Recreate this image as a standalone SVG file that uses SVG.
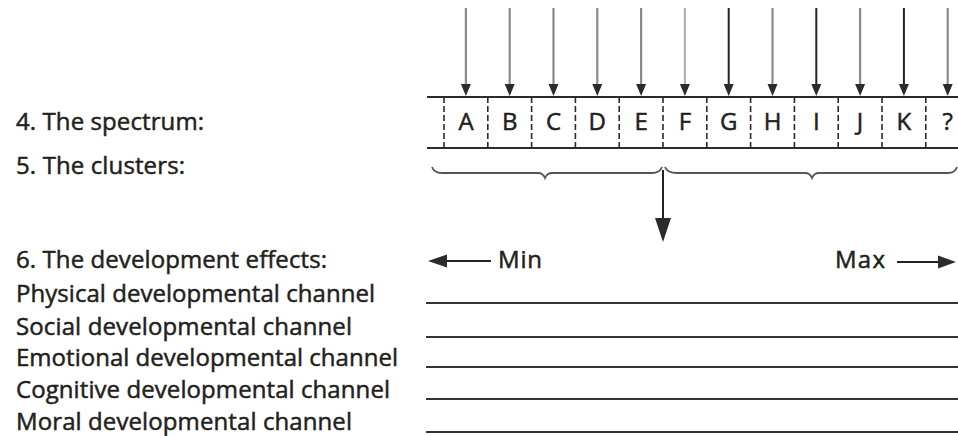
<svg xmlns="http://www.w3.org/2000/svg" width="958" height="436" viewBox="0 0 958 436">
<style>
text{font-family:"Open Sans","Noto Sans","Liberation Sans",sans-serif;font-size:24px;fill:#231f20;stroke:#231f20;stroke-width:0.5}
.cell{text-anchor:middle}
.rule{stroke:#2b2b2b;stroke-width:2;fill:none}
.div{stroke:#2b2b2b;stroke-width:1.6;stroke-dasharray:6 3}
.ga{stroke:#8a8a8a;stroke-width:2.2}
.da{stroke:#222;stroke-width:2}
.brace{stroke:#555;stroke-width:1.8;fill:none}
.head{fill:#2b2b2b}
.ln{stroke:#333;stroke-width:2.2}
</style>
<rect width="958" height="436" fill="#fff"/>
<g id="labels">
<text x="16" y="130" textLength="188">4. The spectrum:</text>
<text x="16" y="174" textLength="169">5. The clusters:</text>
<text x="16" y="268" textLength="311">6. The development effects:</text>
<text x="16" y="302" textLength="359">Physical developmental channel</text>
<text x="16" y="335" textLength="336">Social developmental channel</text>
<text x="16" y="366" textLength="382">Emotional developmental channel</text>
<text x="16" y="398" textLength="374">Cognitive developmental channel</text>
<text x="16" y="430" textLength="336">Moral developmental channel</text>
</g>
<g id="spectrum">
<line class="rule" x1="427" y1="97" x2="958" y2="97"/>
<line class="rule" x1="427" y1="148" x2="958" y2="148"/>
<line class="div" x1="444" y1="97" x2="444" y2="148"/>
<line class="div" x1="487.8" y1="97" x2="487.8" y2="148"/>
<line class="div" x1="531.6" y1="97" x2="531.6" y2="148"/>
<line class="div" x1="575.4" y1="97" x2="575.4" y2="148"/>
<line class="div" x1="619.2" y1="97" x2="619.2" y2="148"/>
<line class="div" x1="663" y1="97" x2="663" y2="148"/>
<line class="div" x1="706.8" y1="97" x2="706.8" y2="148"/>
<line class="div" x1="750.6" y1="97" x2="750.6" y2="148"/>
<line class="div" x1="794.4" y1="97" x2="794.4" y2="148"/>
<line class="div" x1="838.2" y1="97" x2="838.2" y2="148"/>
<line class="div" x1="882" y1="97" x2="882" y2="148"/>
<line class="div" x1="925.8" y1="97" x2="925.8" y2="148"/>
<text class="cell" x="466" y="130">A</text>
<text class="cell" x="509.7" y="130">B</text>
<text class="cell" x="553.5" y="130">C</text>
<text class="cell" x="597.3" y="130">D</text>
<text class="cell" x="641.1" y="130">E</text>
<text class="cell" x="684.9" y="130">F</text>
<text class="cell" x="728.7" y="130">G</text>
<text class="cell" x="772.5" y="130">H</text>
<text class="cell" x="816.3" y="130">I</text>
<text class="cell" x="860.1" y="130">J</text>
<text class="cell" x="903.9" y="130">K</text>
<text class="cell" x="947.7" y="130">?</text>
</g>
<g id="clusters">
<path class="brace" d="M432,167 Q434,173 442,173 L538,173 Q543,173 545,178 Q547,173 552,173 L652,173 Q660,173 662,167"/>
<path class="brace" d="M665,167 Q667,173 677,173 L805,173 Q810,173 812,178 Q814,173 819,173 L948,173 Q955,173 957,167"/>
</g>
<g id="effects">
<text x="498" y="268" textLength="44">Min</text>
<text x="835" y="268" textLength="50">Max</text>
<line class="ln" x1="426" y1="303" x2="958" y2="303"/>
<line class="ln" x1="426" y1="337" x2="958" y2="337"/>
<line class="ln" x1="426" y1="367" x2="958" y2="367"/>
<line class="ln" x1="426" y1="399" x2="958" y2="399"/>
<line class="ln" x1="426" y1="432" x2="958" y2="432"/>
</g>
<g id="connectors">
<g>
<line class="ga" x1="465.9" y1="8" x2="465.9" y2="85"/>
<line class="ga" x1="509.7" y1="8" x2="509.7" y2="85"/>
<line class="ga" x1="553.5" y1="8" x2="553.5" y2="85"/>
<line class="ga" x1="597.3" y1="8" x2="597.3" y2="85"/>
<line class="ga" x1="641.1" y1="8" x2="641.1" y2="85"/>
<line class="ga" x1="684.9" y1="8" x2="684.9" y2="85" style="stroke:#b0b0b0"/>
<line class="da" x1="728.7" y1="8" x2="728.7" y2="85"/>
<line class="ga" x1="772.5" y1="8" x2="772.5" y2="85"/>
<line class="da" x1="816.3" y1="8" x2="816.3" y2="85"/>
<line class="ga" x1="860.1" y1="8" x2="860.1" y2="85"/>
<line class="da" x1="903.9" y1="8" x2="903.9" y2="85"/>
<line class="ga" x1="947.7" y1="8" x2="947.7" y2="85"/>
<path class="head" d="M460.9,84 h10 l-5,12 z M504.7,84 h10 l-5,12 z M548.5,84 h10 l-5,12 z M592.3,84 h10 l-5,12 z M636.1,84 h10 l-5,12 z M679.9,84 h10 l-5,12 z M723.7,84 h10 l-5,12 z M767.5,84 h10 l-5,12 z M811.3,84 h10 l-5,12 z M855.1,84 h10 l-5,12 z M898.9,84 h10 l-5,12 z M942.7,84 h10 l-5,12 z"/>
</g>
<line class="da" x1="663" y1="170" x2="663" y2="222"/>
<path class="head" d="M655,218 L671,218 L663,242 Z"/>
<line class="da" x1="445" y1="261" x2="491" y2="261"/>
<path class="head" d="M428,261 L447,254.5 L447,267.5 Z"/>
<line class="da" x1="897" y1="262" x2="942" y2="262"/>
<path class="head" d="M956,262 L938,255.5 L938,268.5 Z"/>
</g>
</svg>
